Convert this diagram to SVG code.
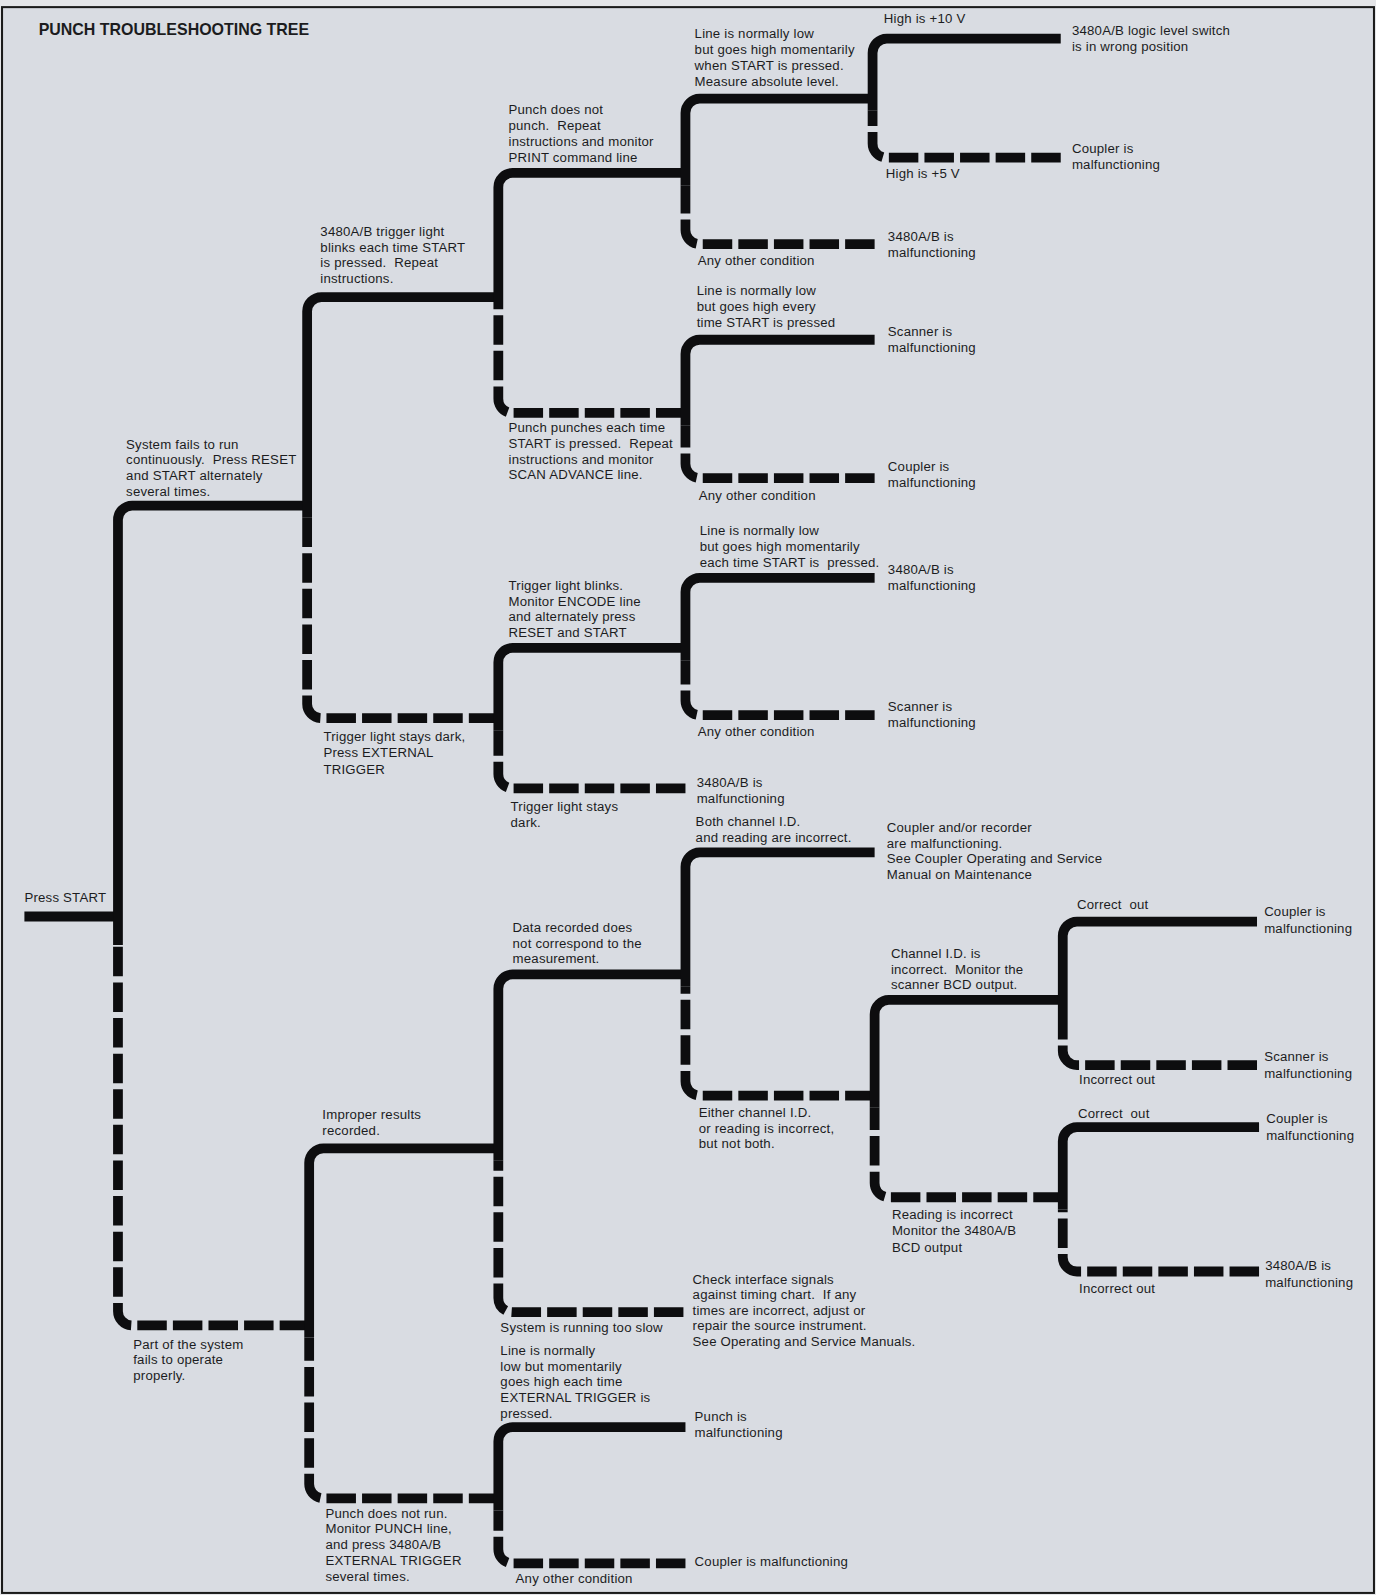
<svg xmlns="http://www.w3.org/2000/svg" width="1376" height="1595" viewBox="0 0 1376 1595">
<style>
.t{font-family:"Liberation Sans",Arial,sans-serif;font-size:13px;fill:#1c1c1e;letter-spacing:0.2px;white-space:pre}
.title{font-family:"Liberation Sans",Arial,sans-serif;font-size:16.5px;font-weight:bold;fill:#1c1c1e}
.s{fill:none;stroke:#0d0d0f;stroke-width:9.6;stroke-linecap:butt;stroke-linejoin:round}
.d{fill:none;stroke:#0d0d0f;stroke-width:9.6;stroke-linecap:butt;stroke-dasharray:29 6}
</style>
<rect x="0" y="0" width="1376" height="1595" fill="#e4e5e8"/>
<g transform="scale(1.017 1.0172)">
<rect x="2" y="7" width="1349" height="1559" fill="#d9dce2" stroke="#1a1a1a" stroke-width="2"/>
<text class="title" x="38" y="34" textLength="266" lengthAdjust="spacingAndGlyphs">PUNCH TROUBLESHOOTING TREE</text>

<g id="connectors">
<path class="s" d="M24 901 H116"/>
<path class="s" d="M116 929 V511 A14 14 0 0 1 130 497 H302"/>
<path class="d" d="M304 1303 H130 A14 14 0 0 1 116 1289 V929"/>
<path class="s" d="M302 509 V306 A14 14 0 0 1 316 292 H490"/>
<path class="d" d="M490 706 H316 A14 14 0 0 1 302 692 V509"/>
<path class="s" d="M490 304 V184 A14 14 0 0 1 504 170 H674"/>
<path class="d" d="M674 406 H504 A14 14 0 0 1 490 392 V304"/>
<path class="s" d="M674 182 V111 A14 14 0 0 1 688 97 H858"/>
<path class="d" d="M860 240 H688 A14 14 0 0 1 674 226 V182"/>
<path class="s" d="M858 109 V52 A14 14 0 0 1 872 38 H1043"/>
<path class="d" d="M1043 155 H872 A14 14 0 0 1 858 141 V109"/>
<path class="s" d="M674 418 V348 A14 14 0 0 1 688 334 H860"/>
<path class="d" d="M860 470 H688 A14 14 0 0 1 674 456 V418"/>
<path class="s" d="M490 718 V651 A14 14 0 0 1 504 637 H674"/>
<path class="d" d="M674 775 H504 A14 14 0 0 1 490 761 V718"/>
<path class="s" d="M674 649 V582 A14 14 0 0 1 688 568 H860"/>
<path class="d" d="M860 703 H688 A14 14 0 0 1 674 689 V649"/>
<path class="s" d="M304 1315 V1143 A14 14 0 0 1 318 1129 H490"/>
<path class="d" d="M490 1473 H318 A14 14 0 0 1 304 1459 V1315"/>
<path class="s" d="M490 1141 V972 A14 14 0 0 1 504 958 H674"/>
<path class="d" d="M672 1290 H504 A14 14 0 0 1 490 1276 V1141"/>
<path class="s" d="M674 970 V852 A14 14 0 0 1 688 838 H860"/>
<path class="d" d="M860 1077 H688 A14 14 0 0 1 674 1063 V970"/>
<path class="s" d="M860 1089 V997 A14 14 0 0 1 874 983 H1045"/>
<path class="d" d="M1045 1177 H874 A14 14 0 0 1 860 1163 V1089"/>
<path class="s" d="M1045 995 V920 A14 14 0 0 1 1059 906 H1236"/>
<path class="d" d="M1236 1047 H1059 A14 14 0 0 1 1045 1033 V995"/>
<path class="s" d="M1045 1189 V1122 A14 14 0 0 1 1059 1108 H1238"/>
<path class="d" d="M1238 1250 H1059 A14 14 0 0 1 1045 1236 V1189"/>
<path class="s" d="M490 1485 V1417 A14 14 0 0 1 504 1403 H674"/>
<path class="d" d="M674 1537 H504 A14 14 0 0 1 490 1523 V1485"/>
</g>

<g id="root"><text class="t" x="24" y="887">Press START</text></g>

<g id="n-system-fails"><text class="t" x="124" y="441"><tspan x="124">System fails to run</tspan><tspan x="124" dy="15.4">continuously.  Press RESET</tspan><tspan x="124" dy="15.4">and START alternately</tspan><tspan x="124" dy="15.4">several times.</tspan></text></g>
<g id="n-part-fails"><text class="t" x="131" y="1326"><tspan x="131">Part of the system</tspan><tspan x="131" dy="15.4">fails to operate</tspan><tspan x="131" dy="15.4">properly.</tspan></text></g>

<g id="n-trigger-blinks"><text class="t" x="315" y="232"><tspan x="315">3480A/B trigger light</tspan><tspan x="315" dy="15.4">blinks each time START</tspan><tspan x="315" dy="15.4">is pressed.  Repeat</tspan><tspan x="315" dy="15.4">instructions.</tspan></text></g>
<g id="n-trigger-dark"><text class="t" x="318" y="728"><tspan x="318">Trigger light stays dark,</tspan><tspan x="318" dy="16.3">Press EXTERNAL</tspan><tspan x="318" dy="16.3">TRIGGER</tspan></text></g>

<g id="n-punch-not-punch"><text class="t" x="500" y="112"><tspan x="500">Punch does not</tspan><tspan x="500" dy="15.6">punch.  Repeat</tspan><tspan x="500" dy="15.6">instructions and monitor</tspan><tspan x="500" dy="15.6">PRINT command line</tspan></text></g>
<g id="n-punch-punches"><text class="t" x="500" y="425"><tspan x="500">Punch punches each time</tspan><tspan x="500" dy="15.4">START is pressed.  Repeat</tspan><tspan x="500" dy="15.4">instructions and monitor</tspan><tspan x="500" dy="15.4">SCAN ADVANCE line.</tspan></text></g>

<g id="n-line-low-momentarily"><text class="t" x="683" y="37"><tspan x="683">Line is normally low</tspan><tspan x="683" dy="15.9">but goes high momentarily</tspan><tspan x="683" dy="15.9">when START is pressed.</tspan><tspan x="683" dy="15.9">Measure absolute level.</tspan></text></g>
<g id="n-any-other-1"><text class="t" x="686" y="261">Any other condition</text></g>
<g id="leaf-3480-1"><text class="t" x="873" y="237"><tspan x="873">3480A/B is</tspan><tspan x="873" dy="15.8">malfunctioning</tspan></text></g>

<g id="n-high-10"><text class="t" x="869" y="23">High is +10 V</text></g>
<g id="leaf-logic-switch"><text class="t" x="1054" y="34"><tspan x="1054">3480A/B logic level switch</tspan><tspan x="1054" dy="15.8">is in wrong position</tspan></text></g>
<g id="n-high-5"><text class="t" x="871" y="175">High is +5 V</text></g>
<g id="leaf-coupler-1"><text class="t" x="1054" y="150"><tspan x="1054">Coupler is</tspan><tspan x="1054" dy="15.8">malfunctioning</tspan></text></g>

<g id="n-line-low-every"><text class="t" x="685" y="290"><tspan x="685">Line is normally low</tspan><tspan x="685" dy="15.5">but goes high every</tspan><tspan x="685" dy="15.5">time START is pressed</tspan></text></g>
<g id="leaf-scanner-1"><text class="t" x="873" y="330"><tspan x="873">Scanner is</tspan><tspan x="873" dy="15.6">malfunctioning</tspan></text></g>
<g id="n-any-other-2"><text class="t" x="687" y="492">Any other condition</text></g>
<g id="leaf-coupler-2"><text class="t" x="873" y="463"><tspan x="873">Coupler is</tspan><tspan x="873" dy="15.6">malfunctioning</tspan></text></g>

<g id="n-trigger-light-blinks"><text class="t" x="500" y="580"><tspan x="500">Trigger light blinks.</tspan><tspan x="500" dy="15.4">Monitor ENCODE line</tspan><tspan x="500" dy="15.4">and alternately press</tspan><tspan x="500" dy="15.4">RESET and START</tspan></text></g>
<g id="n-trigger-stays-dark"><text class="t" x="502" y="797"><tspan x="502">Trigger light stays</tspan><tspan x="502" dy="15.6">dark.</tspan></text></g>
<g id="leaf-3480-2"><text class="t" x="685" y="774"><tspan x="685">3480A/B is</tspan><tspan x="685" dy="15.8">malfunctioning</tspan></text></g>

<g id="n-line-low-each"><text class="t" x="688" y="526"><tspan x="688">Line is normally low</tspan><tspan x="688" dy="15.5">but goes high momentarily</tspan><tspan x="688" dy="15.5">each time START is  pressed.</tspan></text></g>
<g id="leaf-3480-3"><text class="t" x="873" y="564"><tspan x="873">3480A/B is</tspan><tspan x="873" dy="15.8">malfunctioning</tspan></text></g>
<g id="n-any-other-3"><text class="t" x="686" y="724">Any other condition</text></g>
<g id="leaf-scanner-2"><text class="t" x="873" y="699"><tspan x="873">Scanner is</tspan><tspan x="873" dy="15.8">malfunctioning</tspan></text></g>

<g id="n-improper"><text class="t" x="317" y="1100"><tspan x="317">Improper results</tspan><tspan x="317" dy="15.6">recorded.</tspan></text></g>
<g id="n-punch-not-run"><text class="t" x="320" y="1492"><tspan x="320">Punch does not run.</tspan><tspan x="320" dy="15.5">Monitor PUNCH line,</tspan><tspan x="320" dy="15.5">and press 3480A/B</tspan><tspan x="320" dy="15.5">EXTERNAL TRIGGER</tspan><tspan x="320" dy="15.5">several times.</tspan></text></g>

<g id="n-data-recorded"><text class="t" x="504" y="916"><tspan x="504">Data recorded does</tspan><tspan x="504" dy="15.5">not correspond to the</tspan><tspan x="504" dy="15.5">measurement.</tspan></text></g>
<g id="n-too-slow"><text class="t" x="492" y="1309">System is running too slow</text></g>
<g id="leaf-check-interface"><text class="t" x="681" y="1262"><tspan x="681">Check interface signals</tspan><tspan x="681" dy="15.3">against timing chart.  If any</tspan><tspan x="681" dy="15.3">times are incorrect, adjust or</tspan><tspan x="681" dy="15.3">repair the source instrument.</tspan><tspan x="681" dy="15.3">See Operating and Service Manuals.</tspan></text></g>

<g id="n-both-incorrect"><text class="t" x="684" y="812"><tspan x="684">Both channel I.D.</tspan><tspan x="684" dy="15.5">and reading are incorrect.</tspan></text></g>
<g id="leaf-coupler-recorder"><text class="t" x="872" y="818"><tspan x="872">Coupler and/or recorder</tspan><tspan x="872" dy="15.4">are malfunctioning.</tspan><tspan x="872" dy="15.4">See Coupler Operating and Service</tspan><tspan x="872" dy="15.4">Manual on Maintenance</tspan></text></g>
<g id="n-either-incorrect"><text class="t" x="687" y="1098"><tspan x="687">Either channel I.D.</tspan><tspan x="687" dy="15.5">or reading is incorrect,</tspan><tspan x="687" dy="15.5">but not both.</tspan></text></g>

<g id="n-channel-incorrect"><text class="t" x="876" y="942"><tspan x="876">Channel I.D. is</tspan><tspan x="876" dy="15.3">incorrect.  Monitor the</tspan><tspan x="876" dy="15.3">scanner BCD output.</tspan></text></g>
<g id="n-reading-incorrect"><text class="t" x="877" y="1198"><tspan x="877">Reading is incorrect</tspan><tspan x="877" dy="16.5">Monitor the 3480A/B</tspan><tspan x="877" dy="16.5">BCD output</tspan></text></g>

<g id="n-correct-out-1"><text class="t" x="1059" y="894">Correct  out</text></g>
<g id="leaf-coupler-3"><text class="t" x="1243" y="901"><tspan x="1243">Coupler is</tspan><tspan x="1243" dy="16">malfunctioning</tspan></text></g>
<g id="n-incorrect-out-1"><text class="t" x="1061" y="1066">Incorrect out</text></g>
<g id="leaf-scanner-3"><text class="t" x="1243" y="1043"><tspan x="1243">Scanner is</tspan><tspan x="1243" dy="16.5">malfunctioning</tspan></text></g>

<g id="n-correct-out-2"><text class="t" x="1060" y="1099">Correct  out</text></g>
<g id="leaf-coupler-4"><text class="t" x="1245" y="1104"><tspan x="1245">Coupler is</tspan><tspan x="1245" dy="17">malfunctioning</tspan></text></g>
<g id="n-incorrect-out-2"><text class="t" x="1061" y="1271">Incorrect out</text></g>
<g id="leaf-3480-4"><text class="t" x="1244" y="1249"><tspan x="1244">3480A/B is</tspan><tspan x="1244" dy="16">malfunctioning</tspan></text></g>

<g id="n-line-low-ext"><text class="t" x="492" y="1332"><tspan x="492">Line is normally</tspan><tspan x="492" dy="15.5">low but momentarily</tspan><tspan x="492" dy="15.5">goes high each time</tspan><tspan x="492" dy="15.5">EXTERNAL TRIGGER is</tspan><tspan x="492" dy="15.5">pressed.</tspan></text></g>
<g id="leaf-punch"><text class="t" x="683" y="1397"><tspan x="683">Punch is</tspan><tspan x="683" dy="15.8">malfunctioning</tspan></text></g>
<g id="n-any-other-4"><text class="t" x="507" y="1556">Any other condition</text></g>
<g id="leaf-coupler-5"><text class="t" x="683" y="1540">Coupler is malfunctioning</text></g>
</g>
</svg>
